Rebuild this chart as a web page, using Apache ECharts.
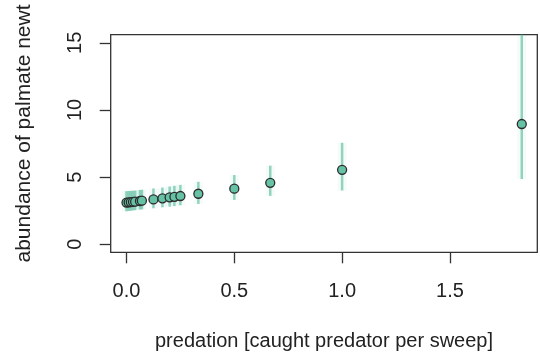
<!DOCTYPE html>
<html>
<head>
<meta charset="utf-8">
<script src="https://cdn.jsdelivr.net/npm/echarts@6/dist/echarts.min.js"></script>
<style>
html,body{margin:0;padding:0;background:#fff;}
#c{width:540px;height:358px;}
</style>
</head>
<body>
<div id="c"></div>
<script>
// Data
const predation = [0, 0.01, 0.02, 0.03, 0.04, 0.0625, 0.0714, 0.125, 0.1667, 0.2, 0.2222, 0.25, 0.3333, 0.5, 0.6667, 1.0, 1.8333];
const abundance = [3.10, 3.12, 3.14, 3.16, 3.17, 3.22, 3.24, 3.34, 3.42, 3.49, 3.53, 3.59, 3.76, 4.14, 4.57, 5.54, 8.95];
const lowerCI  = [2.45, 2.48, 2.50, 2.52, 2.54, 2.58, 2.60, 2.68, 2.75, 2.80, 2.84, 2.90, 3.00, 3.30, 3.60, 4.00, 4.85];
const upperCI  = [3.95, 3.96, 3.97, 3.98, 4.00, 4.04, 4.06, 4.15, 4.22, 4.30, 4.35, 4.42, 4.65, 5.15, 5.85, 7.55, 16.5];
const xTicks = [0, 0.5, 1, 1.5];
const yTicks = [0, 5, 10, 15];
const xTitle = 'predation [caught predator per sweep]';
const yTitle = 'abundance of palmate newt';

const FONT = "'Liberation Sans', Arial, sans-serif";
const chart = echarts.init(document.getElementById('c'), null, {renderer: 'canvas'});

const barData = predation.map((x, i) => [x, lowerCI[i], upperCI[i]]);
const ptData = predation.map((x, i) => [x, abundance[i]]);

function renderBar(params, api) {
  const x = api.value(0), lo = api.value(1), hi = api.value(2);
  const p1 = api.coord([x, lo]);
  const p2 = api.coord([x, hi]);
  const cs = params.coordSys;
  const yTop = cs.y, yBot = cs.y + cs.height;
  const y1 = Math.min(Math.max(p1[1], yTop), yBot);
  const y2 = Math.min(Math.max(p2[1], yTop), yBot);
  return {
    type: 'group',
    children: [
      {type: 'line', shape: {x1: p1[0], y1: y1, x2: p2[0], y2: y2},
       style: {stroke: 'rgba(102,194,165,0.07)', lineWidth: 9}},
      {type: 'line', shape: {x1: p1[0], y1: y1, x2: p2[0], y2: y2},
       style: {stroke: 'rgba(102,194,165,0.7)', lineWidth: 2.5}}
    ]
  };
}

chart.setOption({
  backgroundColor: '#fff',
  animation: false,
  grid: {left: 110.7, right: 2.7, top: 34.7, bottom: 105.7, show: true,
         borderColor: '#333', borderWidth: 1.3, backgroundColor: 'transparent'},
  xAxis: {
    type: 'value', min: -0.0733, max: 1.9053,
    name: xTitle, nameLocation: 'middle', nameGap: 79,
    nameTextStyle: {fontSize: 20, color: '#222', fontFamily: FONT, verticalAlign: 'top'},
    axisLine: {show: false, onZero: false},
    splitLine: {show: false},
    axisTick: {show: true, inside: false, length: 11, customValues: xTicks,
               lineStyle: {color: '#333', width: 1.3}},
    axisLabel: {customValues: xTicks, fontSize: 20, color: '#222', fontFamily: FONT, margin: 29,
                formatter: v => v.toFixed(1)}
  },
  yAxis: {
    type: 'value', min: -0.6, max: 15.6,
    name: yTitle, nameLocation: 'middle', nameGap: 76,
    nameTextStyle: {fontSize: 21, color: '#222', fontFamily: FONT, padding: [0, 0, 0, 20]},
    axisLine: {show: false, onZero: false},
    splitLine: {show: false},
    axisTick: {show: true, inside: false, length: 11, customValues: yTicks,
               lineStyle: {color: '#333', width: 1.3}},
    axisLabel: {customValues: yTicks, fontSize: 20, color: '#222', fontFamily: FONT, margin: 25, rotate: 90}
  },
  series: [
    {type: 'custom', renderItem: renderBar, data: barData, encode: {x: 0, y: [1, 2]}, z: 2, silent: true},
    {type: 'scatter', data: ptData, symbol: 'circle', symbolSize: 9, z: 3,
     itemStyle: {color: '#66c2a5', borderColor: '#2b2b2b', borderWidth: 1.3, opacity: 1}}
  ]
});
</script>
</body>
</html>
